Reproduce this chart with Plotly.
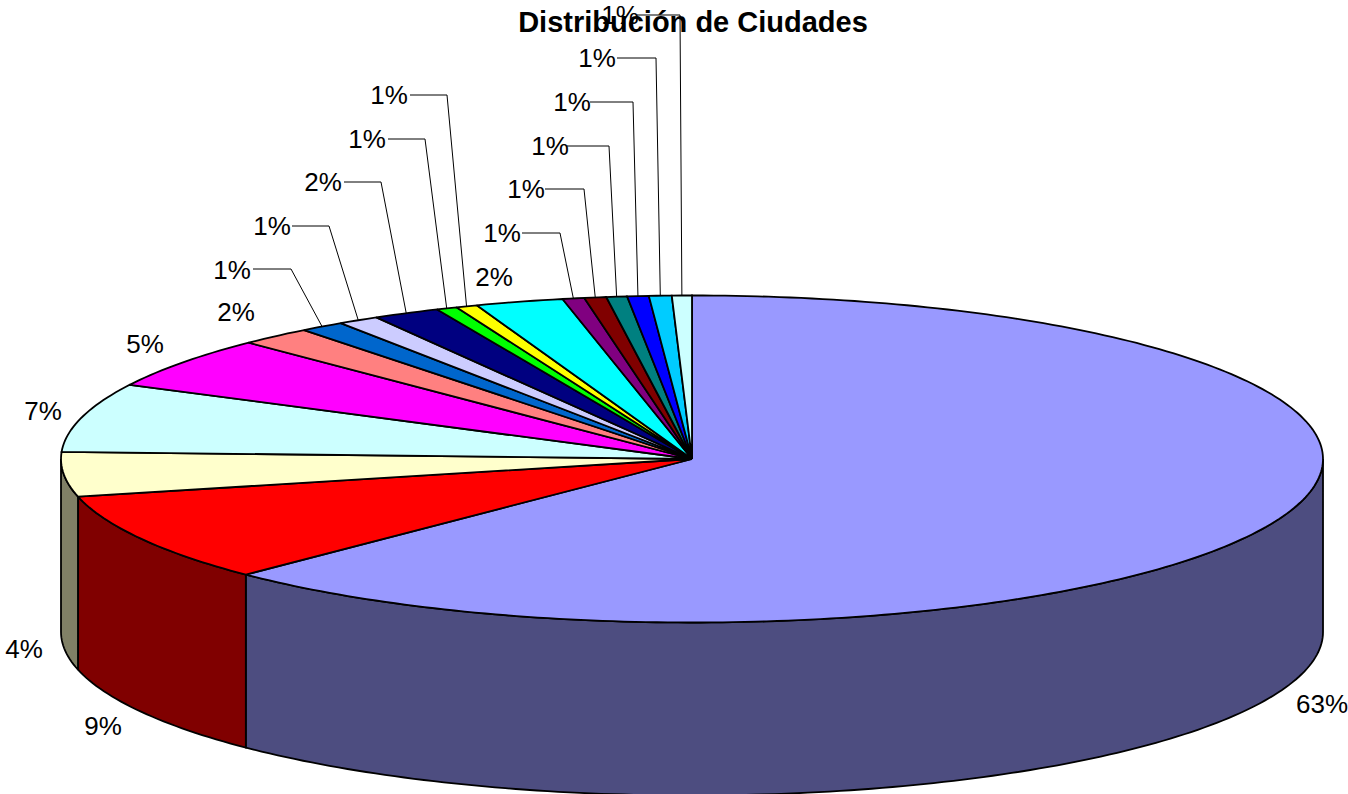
import math
import plotly.graph_objects as go

TITLE = "Distribución de Ciudades"
# Share of each slice, clockwise from 12 o'clock (%)
shares = [62.5, 8.8, 4.4, 6.8, 5.1, 1.86, 1.14, 1.06, 1.72, 0.53, 0.55, 2.25, 0.56, 0.56, 0.53, 0.55, 0.58, 0.51]
colors = ["#9999FF", "#FF0000", "#FFFFCC", "#CCFFFF", "#FF00FF", "#FF8080", "#0066CC", "#CCCCFF",
          "#000080", "#00FF00", "#FFFF00", "#00FFFF", "#800080", "#800000", "#008080", "#0000FF",
          "#00CCFF", "#CCFFFF"]

# Layout geometry, in pixels
W, H = 1348, 794
CX, CY, RX, RY, DEPTH = 692, 459, 631, 163.5, 173
label_x = [1322, 103, 24, 43, 145, 236, 232, 272, 323, 367, 389, 494, 502, 526, 550, 572, 597, 620]
label_y = [706, 728, 651, 413, 346, 314, 272, 228, 184, 141, 97, 279, 235, 191, 148, 104, 60, 17]
leader_y = [704, 726, 649, 411, 344, 312, 269, 226, 182, 139, 95, 277, 233, 189, 146, 102, 58, 15]
# leader line: (start x, elbow x) or None
leaders = [None, None, None, None, None, None, (253, 291), (292, 329), (344, 381), (388, 425), (410, 447),
           None, (522, 560), (545, 584), (567, 609), (590, 633), (617, 656), (637, 680)]


def half(c):
    return "#" + "".join(f"{int(c[i:i+2], 16) // 2 + (int(c[i:i+2], 16) % 2):02X}" for i in (1, 3, 5))


def rim(deg, dy=0):
    t = math.radians(deg)
    return CX + RX * math.sin(t), CY - RY * math.cos(t) + dy


def arc(a, b, dy=0):
    n = max(2, int(abs(b - a)) + 2)
    return [rim(a + (b - a) * i / (n - 1), dy) for i in range(n)]


fig = go.Figure()
ends = [0.0]
for s in shares:
    ends.append(ends[-1] + s * 360 / sum(shares))


def poly(pts, fill):
    fig.add_trace(go.Scatter(x=[p[0] for p in pts], y=[p[1] for p in pts], mode="lines", fill="toself",
                             fillcolor=fill, line=dict(color="black", width=1.8, simplify=False),
                             hoverinfo="skip", showlegend=False))


# Side walls (only the visible, front half of the rim)
for i, c in enumerate(colors):
    a, b = max(ends[i], 90), min(ends[i + 1], 270)
    if a < b:
        poly(arc(a, b) + arc(b, a, DEPTH) + [rim(a)], half(c))

# Top faces
for i, c in enumerate(colors):
    poly([(CX, CY)] + arc(ends[i], ends[i + 1]) + [(CX, CY)], c)

# Leader lines
for i, ld in enumerate(leaders):
    if ld:
        ex, ey = rim((ends[i] + ends[i + 1]) / 2)
        fig.add_trace(go.Scatter(x=[ld[0], ld[1], ex], y=[leader_y[i], leader_y[i], ey], mode="lines",
                                 line=dict(color="black", width=1), hoverinfo="skip", showlegend=False))

# Labels (half rounds up, as in the reference)
fig.add_trace(go.Scatter(x=label_x, y=label_y, mode="text", text=[f"{math.floor(s + 0.5)}%" for s in shares],
                         textposition="middle center", textfont=dict(family="Liberation Sans, Arial", size=26, color="black"),
                         cliponaxis=False, hoverinfo="skip", showlegend=False))

fig.update_layout(
    width=W, height=H, margin=dict(l=0, r=0, t=0, b=0),
    paper_bgcolor="white", plot_bgcolor="white", showlegend=False,
    title=dict(text=f"<b>{TITLE}</b>", x=693 / W, xanchor="center", y=1 - 22 / H, yanchor="middle",
               font=dict(family="Liberation Sans, Arial", size=29, color="black")),
    xaxis=dict(range=[0, W], visible=False, fixedrange=True),
    yaxis=dict(range=[H, 0], visible=False, fixedrange=True),
)
fig.write_html("out.html", config=dict(displayModeBar=False),
               post_script="document.body.style.margin='0';document.documentElement.style.overflow='hidden';")
